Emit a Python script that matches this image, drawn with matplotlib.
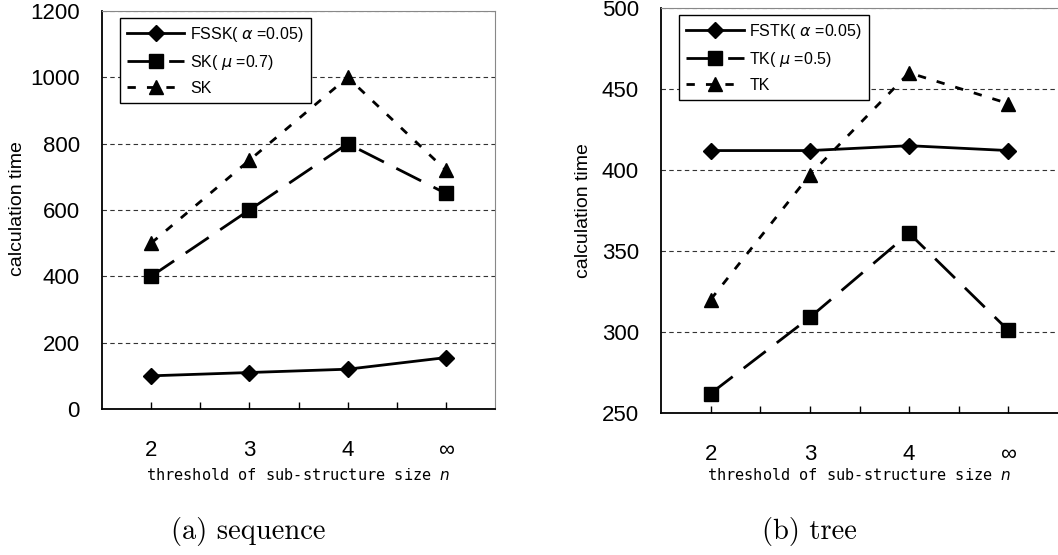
import numpy as np
import matplotlib
matplotlib.use("Agg")
import matplotlib.pyplot as plt

plt.rcParams['font.family'] = ['Liberation Sans', 'DejaVu Sans']
plt.rcParams['mathtext.fontset'] = 'dejavusans'

# x categories (threshold n)
cats = ['2', '3', '4', '∞']

# (a) sequence
seq_fssk = [100, 110, 120, 155]
seq_sk_mu = [400, 600, 800, 650]
seq_sk = [500, 750, 1000, 720]
seq_names = ['FSSK( $\\alpha$ =0.05)', 'SK( $\\mu$ =0.7)', 'SK']
seq_yticks = [0, 200, 400, 600, 800, 1000, 1200]

# (b) tree
tree_fstk = [412, 412, 415, 412]
tree_tk_mu = [262, 309, 361, 301]
tree_tk = [320, 397, 460, 441]
tree_names = ['FSTK( $\\alpha$ =0.05)', 'TK( $\\mu$ =0.5)', 'TK']
tree_yticks = [250, 300, 350, 400, 450, 500]

styles = [
    dict(linestyle='-', marker='D', markersize=8),
    dict(linestyle=(0, (10, 5)), marker='s', markersize=9.5),
    dict(linestyle=(0, (3, 4)), marker='^', markersize=10),
]

W, H = 1058, 555


def draw(ax, series, names, yticks):
    x = np.arange(len(cats))
    for vals, name, st in zip(series, names, styles):
        ax.plot(x, vals, color='black', linewidth=2, label=name,
                markeredgecolor='black', markerfacecolor='black', **st)
    ax.set_xlim(-0.5, len(cats) - 0.5)
    ax.set_ylim(yticks[0], yticks[-1])
    ax.set_yticks(yticks)
    ax.tick_params(axis='y', length=0, labelsize=16, pad=16)
    ax.set_xticks(x)
    ax.set_xticklabels(cats, fontsize=16)
    ax.set_xticks(x[:-1] + 0.5, minor=True)
    ax.tick_params(axis='x', which='both', direction='in', length=5,
                   width=1, pad=22)
    ax.yaxis.grid(True, linestyle=(0, (4, 3)), color='#333333', linewidth=0.8)
    ax.set_axisbelow(True)
    for s in ['top', 'right']:
        ax.spines[s].set_color('#888888')
    for s in ['left', 'bottom']:
        ax.spines[s].set_linewidth(1.3)
    leg = ax.legend(loc='upper left', bbox_to_anchor=(0.045, 0.983), fontsize=11.5,
                    fancybox=False, edgecolor='black', framealpha=1,
                    handlelength=3.6, handletextpad=0.35, borderpad=0.45,
                    labelspacing=0.55, borderaxespad=0)
    leg.get_frame().set_linewidth(1.0)


fig = plt.figure(figsize=(W / 100, H / 100), dpi=100)
ax1 = fig.add_axes([102 / W, 1 - 409 / H, 393 / W, 398 / H])
ax2 = fig.add_axes([661 / W, 1 - 413 / H, 397 / W, 405 / H])

draw(ax1, [seq_fssk, seq_sk_mu, seq_sk], seq_names, seq_yticks)
draw(ax2, [tree_fstk, tree_tk_mu, tree_tk], tree_names, tree_yticks)
ax2.spines['right'].set_visible(False)

xlab = 'threshold of sub-structure size $n$'
for xc, yc in [(18, 209), (583, 211)]:
    fig.text(xc / W, 1 - yc / H, 'calculation time', rotation=90,
             ha='center', va='center', fontsize=14)
for xc in [298, 859]:
    fig.text(xc / W, 1 - 475 / H, xlab, ha='center', va='center',
             fontsize=11, family='DejaVu Sans Mono')

fig.text(248 / W, 1 - 531 / H, '(a) sequence', ha='center', va='center',
         fontsize=20.5, family='cmr10')
fig.text(809 / W, 1 - 531 / H, '(b) tree', ha='center', va='center',
         fontsize=20.5, family='cmr10')

fig.savefig('out.png', dpi=100)
